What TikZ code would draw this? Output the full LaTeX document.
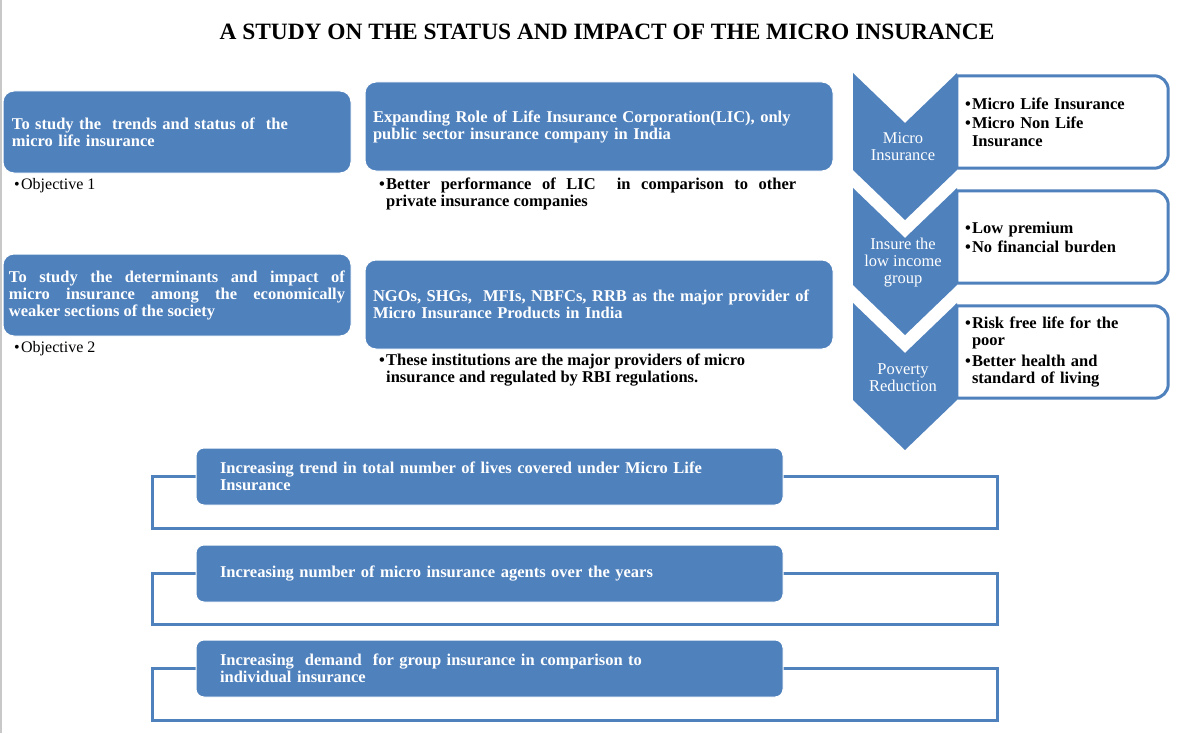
\documentclass[tikz,border=0pt]{standalone}
\usepackage{fontspec}
\setmainfont{Liberation Serif}
\usetikzlibrary{positioning}
\definecolor{boxblue}{HTML}{4F81BD}
\definecolor{edgegray}{HTML}{C8C8C8}
\newcommand{\bitem}{\makebox[7pt][l]{•}}
\newcommand{\bind}{\hspace*{7pt}}

\begin{document}
\begin{tikzpicture}[x=1pt,y=-1pt,
  bodyfont/.style={font=\fontsize{16.5}{17}\selectfont\bfseries},
  bluebox/.style={rectangle,rounded corners=11pt,fill=boxblue,draw=white,line width=1pt,
    text=white,align=left,inner xsep=0pt,inner ysep=0pt,bodyfont},
  note/.style={anchor=west,align=left,inner sep=0pt,text=black,bodyfont},
  sidebox/.style={rectangle,minimum width=211pt,minimum height=92pt,text width=195pt,
    inner xsep=0pt,inner ysep=0pt,align=left,font=\fontsize{16.5}{17.8}\selectfont\bfseries},
  sideframe/.style={draw=boxblue,line width=3pt},
  bracket/.style={draw=boxblue,line width=3pt},
  chevlabel/.style={text=white,align=center,inner sep=0pt,font=\fontsize{16.5}{17}\selectfont}]
  \useasboundingbox (0,0) rectangle (1185,733);
  \fill[white] (0,0) rectangle (1185,733);
  \draw[edgegray,line width=1.5pt] (0.75,0) -- (0.75,733);
  % title
  \node[font=\fontsize{23.4}{27}\selectfont\bfseries] (title) at (607,32)
    {A STUDY ON THE STATUS AND IMPACT OF THE MICRO INSURANCE};
  % objectives
  \node[bluebox,minimum width=348pt,minimum height=82pt,text width=330pt] (obja) at (177,132)
    {To study the\ \ trends and status of\ \ the\\micro life insurance};
  \node[note,font=\fontsize{16}{17}\selectfont] (obja-n) at (14,186) {\bitem Objective 1};
  \node[bluebox,align=justify,minimum width=348pt,minimum height=82pt,text width=336pt] (objb) at (177,295)
    {To study the determinants and impact of\linebreak
     micro insurance among the economically\linebreak
     weaker sections of the society};
  \node[note,font=\fontsize{16}{17}\selectfont] (objb-n) at (14,349) {\bitem Objective 2};
  % providers
  \node[bluebox,minimum width=468pt,minimum height=89pt,text width=452pt] (lic) at (599,126.5)
    {Expanding Role of Life Insurance Corporation(LIC), only\\public sector insurance company in India};
  \node[note] (lic-n) at (379,193.5)
    {\bitem\makebox[410pt][s]{Better performance of LIC\ \ in comparison to other}\\
     \bind private insurance companies};
  \node[bluebox,minimum width=468pt,minimum height=89pt,text width=452pt] (ngo) at (599,304.5)
    {NGOs, SHGs,\ \ MFIs, NBFCs, RRB as the major provider of\\Micro Insurance Products in India};
  \node[note] (ngo-n) at (379,370)
    {\bitem These institutions are the major providers of micro\\
     \bind insurance and regulated by RBI regulations.};
  % side boxes
  \node[sidebox] (life) at (1062.5,122)
    {\bitem Micro Life Insurance\\[1pt]\bitem Micro Non Life\\\bind Insurance};
  \node[sidebox] (prem) at (1062.5,237)
    {\bitem Low premium\\[1pt]\bitem No financial burden};
  \node[sidebox] (risk) at (1062.5,352)
    {\bitem Risk free life for the\\\bind poor\\[2.5pt]\bitem Better health and\\\bind standard of living};
  \foreach \b in {life,prem,risk}
    \draw[sideframe] (\b.north west) [rounded corners=14pt] -- (\b.north east)
      -- (\b.south east) [sharp corners] -- (\b.south west) -- cycle;
  % chevrons
  \foreach \t in {73,188,303}
    \fill[boxblue] (853,\t) -- (905,\t+50) -- (957,\t) -- (957,\t+97)
      -- (905,\t+147) -- (853,\t+97) -- cycle;
  \node[chevlabel] (micro) at (903,147) {Micro\\Insurance};
  \node[chevlabel] (low) at (903,263) {Insure the\\low income\\group};
  \node[chevlabel] (pov) at (903,377.5) {Poverty\\Reduction};
  % findings
  \draw[bracket] (152,476) rectangle (997,528);
  \draw[bracket] (152,573) rectangle (997,624);
  \draw[bracket] (152,668) rectangle (997,720);
  \node[bluebox,rounded corners=8pt,minimum width=587pt,minimum height=57pt,text width=539pt] (lives) at (489.5,476.5)
    {Increasing trend in total number of lives covered under Micro Life\\Insurance};
  \node[bluebox,rounded corners=8pt,minimum width=587pt,minimum height=57pt,text width=539pt] (agents) at (489.5,573.5)
    {Increasing number of micro insurance agents over the years};
  \node[bluebox,rounded corners=8pt,minimum width=587pt,minimum height=57pt,text width=539pt] (group) at (489.5,668.5)
    {Increasing\ \ demand\ \ for group insurance in comparison to\\individual insurance};
\end{tikzpicture}
\end{document}
